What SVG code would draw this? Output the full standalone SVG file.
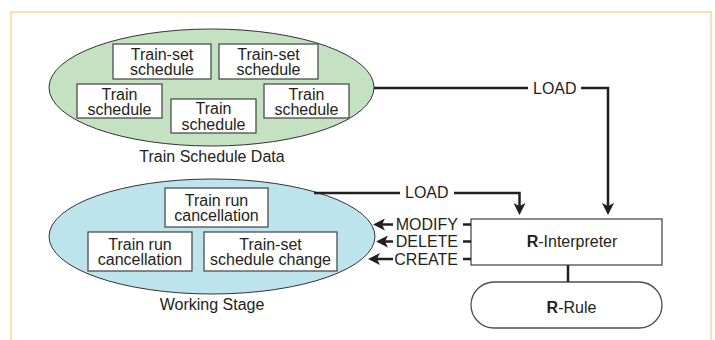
<svg xmlns="http://www.w3.org/2000/svg" width="715" height="340" viewBox="0 0 715 340">
<style>
text{font-family:"Liberation Sans",Arial,Helvetica,sans-serif;font-size:16px;fill:#231f20}
.c{text-anchor:middle}
.e{text-anchor:end}
.box{fill:#fff;stroke:#4d4d4d;stroke-width:1.3}
.ell{stroke:#333;stroke-width:1}
.ln{fill:none;stroke:#231f20;stroke-width:2.5;stroke-linejoin:miter}
.arr{fill:none;stroke:#231f20;stroke-width:2.5;marker-end:url(#ah)}
</style>
<defs>
<marker id="ah" viewBox="0 0 12 12" refX="4" refY="6" markerWidth="12" markerHeight="12" markerUnits="userSpaceOnUse" orient="auto">
<path d="M0,0 L12,6 L0,12 L3,6 Z" fill="#231f20"/>
</marker>
</defs>
<rect width="715" height="340" fill="#fff"/>
<path d="M11,340 V12 H711 V340" fill="none" stroke="#fdd39a" stroke-width="1.5"/>

<g id="train-schedule-data">
<ellipse class="ell" cx="211.5" cy="87.5" rx="162.5" ry="58.5" fill="#c4e2c2"/>
<text class="c" x="212" y="162">Train Schedule Data</text>
</g>
<g id="ts1">
<rect class="box" x="113" y="44" width="98" height="35"/>
<text class="c" x="162" y="59.5">Train-set</text>
<text class="c" x="162" y="75">schedule</text>
</g>
<g id="ts2">
<rect class="box" x="219" y="44" width="99" height="35"/>
<text class="c" x="268.5" y="59.5">Train-set</text>
<text class="c" x="268.5" y="75">schedule</text>
</g>
<g id="t1">
<rect class="box" x="77" y="84" width="85" height="34"/>
<text class="c" x="119.5" y="99.5">Train</text>
<text class="c" x="119.5" y="115">schedule</text>
</g>
<g id="t2">
<rect class="box" x="171" y="99" width="85" height="34"/>
<text class="c" x="213.5" y="114">Train</text>
<text class="c" x="213.5" y="129.5">schedule</text>
</g>
<g id="t3">
<rect class="box" x="264" y="84" width="85" height="34"/>
<text class="c" x="306.5" y="99.5">Train</text>
<text class="c" x="306.5" y="115">schedule</text>
</g>

<g id="working-stage">
<ellipse class="ell" cx="212" cy="236.5" rx="163" ry="57.5" fill="#bde3ed"/>
<text class="c" x="212" y="310">Working Stage</text>
</g>
<g id="c1">
<rect class="box" x="165" y="188" width="103" height="39"/>
<text class="c" x="216.5" y="205.5">Train run</text>
<text class="c" x="216.5" y="221">cancellation</text>
</g>
<g id="c2">
<rect class="box" x="88" y="232" width="104" height="39"/>
<text class="c" x="140" y="249.5">Train run</text>
<text class="c" x="140" y="265">cancellation</text>
</g>
<g id="sc">
<rect class="box" x="204" y="232" width="133" height="39"/>
<text class="c" x="270.5" y="249.5">Train-set</text>
<text class="c" x="270.5" y="265">schedule change</text>
</g>

<g id="interpreter">
<rect class="box" x="471" y="219" width="191" height="46"/>
<text class="c" x="572" y="247"><tspan font-weight="bold">R</tspan>-Interpreter</text>
</g>
<g id="rule">
<rect class="box" x="471" y="282" width="191" height="46" rx="23" ry="23"/>
<text class="c" x="571.5" y="313"><tspan font-weight="bold">R</tspan>-Rule</text>
</g>

<g id="connectors">
<path class="ln" d="M374,88 H528"/>
<path class="arr" d="M581,88 H608 V207"/>
<text x="533" y="93.5">LOAD</text>
<path class="ln" d="M314,193 H400"/>
<path class="arr" d="M454,193 H519.5 V207"/>
<text x="405" y="198">LOAD</text>
<path class="arr" d="M393,224.5 H381"/>
<path class="arr" d="M393,241.5 H384"/>
<path class="arr" d="M393,259 H376"/>
<text class="e" x="458" y="230">MODIFY</text>
<text class="e" x="458" y="247">DELETE</text>
<text class="e" x="458" y="264.5">CREATE</text>
<path class="ln" d="M463,224.5 H471 M463,241.5 H471 M463,259 H471"/>
<path class="ln" d="M568,265 V282"/>
</g>
</svg>
